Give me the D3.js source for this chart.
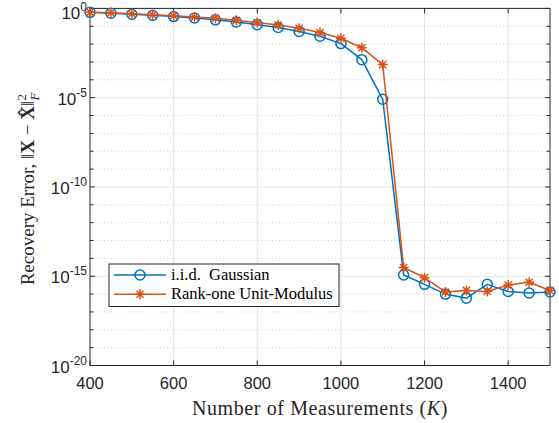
<!DOCTYPE html>
<html>
<head>
<meta charset="utf-8">
<script src="https://cdn.jsdelivr.net/npm/d3@7"></script>
<style>
  html, body { margin: 0; padding: 0; background: #fff; }
  svg { display: block; }
</style>
</head>
<body>
<svg id="chart" width="559" height="423"></svg>
<script>
// Number of measurements K
const measurements = [400, 450, 500, 550, 600, 650, 700, 750, 800, 850, 900, 950,
  1000, 1050, 1100, 1150, 1200, 1250, 1300, 1350, 1400, 1450, 1500];

// Recovery error, i.i.d. Gaussian measurements
const gaussianError = [0.603, 0.537, 0.468, 0.407, 0.347, 0.288, 0.229, 0.174, 0.123,
  0.0851, 0.0513, 0.0275, 0.0107, 1.35e-3, 8.1e-6, 1.17e-15, 3.5e-16, 1.0e-16,
  5.9e-17, 3.5e-16, 1.4e-16, 1.15e-16, 1.3e-16];

// Recovery error, rank-one unit-modulus measurements
const unitModulusError = [0.603, 0.575, 0.501, 0.447, 0.389, 0.331, 0.282, 0.214, 0.162,
  0.117, 0.0776, 0.0447, 0.0214, 6.3e-3, 7.1e-4, 3.1e-15, 8.3e-16, 1.3e-16,
  1.6e-16, 1.4e-16, 3.2e-16, 4.6e-16, 1.6e-16];

const seriesNames = ["i.i.d.  Gaussian", "Rank-one Unit-Modulus"];
const xTicks = [400, 600, 800, 1000, 1200, 1400];
const yLabelExponents = [0, -5, -10, -15, -20];

(function () {
const svg = d3.select("#chart");
const plotLeft = 90, plotRight = 550, plotTop = 8.4, plotBottom = 365.5;
const axisColor = "#262626";

const x = d3.scaleLinear().domain([400, 1500]).range([plotLeft, plotRight]);
const y = d3.scaleLog().domain([1e-20, 1]).range([plotBottom, plotTop]);

const decades = d3.range(-20, 1).map(e => Math.pow(10, e));
const majorDecades = yLabelExponents.map(e => Math.pow(10, e));
const isMajor = v => Math.round(Math.log10(v)) % 5 === 0;

// Grid
const grid = svg.append("g");
grid.selectAll(".ymin").data(decades.filter(d => !isMajor(d))).join("line")
  .attr("x1", plotLeft).attr("x2", plotRight)
  .attr("y1", d => y(d)).attr("y2", d => y(d))
  .attr("stroke", "#c4c4c4").attr("stroke-width", 0.8)
  .attr("stroke-dasharray", "1,2.5");
grid.selectAll(".ymaj").data(majorDecades.filter(d => d > 1e-20 && d < 1)).join("line")
  .attr("x1", plotLeft).attr("x2", plotRight)
  .attr("y1", d => y(d)).attr("y2", d => y(d))
  .attr("stroke", "#e3e3e3").attr("stroke-width", 1);
grid.selectAll(".xmaj").data(xTicks.filter(d => d > 400)).join("line")
  .attr("x1", d => x(d)).attr("x2", d => x(d))
  .attr("y1", plotTop).attr("y2", plotBottom)
  .attr("stroke", "#e3e3e3").attr("stroke-width", 1);

// Box
svg.append("rect")
  .attr("x", plotLeft).attr("y", plotTop)
  .attr("width", plotRight - plotLeft).attr("height", plotBottom - plotTop)
  .attr("fill", "none").attr("stroke", axisColor).attr("stroke-width", 1);

// Ticks (inward, on all four sides)
const ticks = svg.append("g").attr("stroke", axisColor).attr("stroke-width", 1);
decades.forEach(d => {
  const len = isMajor(d) ? 5 : 3.5;
  const yy = y(d);
  ticks.append("line").attr("x1", plotLeft).attr("x2", plotLeft + len).attr("y1", yy).attr("y2", yy);
  ticks.append("line").attr("x1", plotRight).attr("x2", plotRight - len).attr("y1", yy).attr("y2", yy);
});
xTicks.forEach(d => {
  const xx = x(d);
  ticks.append("line").attr("x1", xx).attr("x2", xx).attr("y1", plotBottom).attr("y2", plotBottom - 5);
  ticks.append("line").attr("x1", xx).attr("x2", xx).attr("y1", plotTop).attr("y2", plotTop + 5);
});

// X tick labels
svg.append("g").selectAll("text").data(xTicks).join("text")
  .attr("x", d => x(d)).attr("y", 388.5)
  .attr("text-anchor", "middle")
  .attr("font-family", "Liberation Sans, Arial, sans-serif")
  .attr("font-size", 16.5).attr("fill", axisColor)
  .text(d => d);

// Y tick labels: 10 with superscript exponent (top one kept inside the figure)
const yl = svg.append("g")
  .attr("font-family", "Liberation Sans, Arial, sans-serif")
  .attr("fill", axisColor);
yLabelExponents.forEach(e => {
  const base = Math.max(y(Math.pow(10, e)) + 7, 19);
  const t = yl.append("text")
    .attr("x", 87).attr("y", base)
    .attr("text-anchor", "end");
  t.append("tspan").attr("font-size", 17).text("10");
  t.append("tspan").attr("font-size", 12).attr("dy", -8).text(e === 0 ? "0" : "-" + Math.abs(e));
});

// Series
const series = [
  { name: seriesNames[0], values: gaussianError, color: "#0072BD", marker: "circle" },
  { name: seriesNames[1], values: unitModulusError, color: "#D95319", marker: "star" }
];

function drawMarker(g, kind, cx, cy, color) {
  if (kind === "circle") {
    g.append("circle").attr("cx", cx).attr("cy", cy).attr("r", 5)
      .attr("fill", "none").attr("stroke", color).attr("stroke-width", 1.5);
  } else {
    const r = 5;
    const p = d3.path();
    [0, 45, 90, 135].forEach(a => {
      const rad = a * Math.PI / 180;
      p.moveTo(cx - r * Math.cos(rad), cy - r * Math.sin(rad));
      p.lineTo(cx + r * Math.cos(rad), cy + r * Math.sin(rad));
    });
    g.append("path").attr("d", p.toString())
      .attr("fill", "none").attr("stroke", color).attr("stroke-width", 1.5);
  }
}

const line = d3.line().x(d => x(d[0])).y(d => y(d[1]));
series.forEach(s => {
  const pts = measurements.map((k, i) => [k, s.values[i]]);
  const g = svg.append("g");
  g.append("path").datum(pts).attr("d", line)
    .attr("fill", "none").attr("stroke", s.color).attr("stroke-width", 1.5)
    .attr("stroke-linejoin", "round");
  pts.forEach(p => drawMarker(g, s.marker, x(p[0]), y(p[1]), s.color));
});

// Legend
const lg = svg.append("g");
lg.append("rect").attr("x", 109).attr("y", 264).attr("width", 230).attr("height", 42.5)
  .attr("fill", "#fff").attr("stroke", axisColor).attr("stroke-width", 1);
series.forEach((s, i) => {
  const ly = 275 + i * 19.3;
  lg.append("line").attr("x1", 114).attr("x2", 166).attr("y1", ly).attr("y2", ly)
    .attr("stroke", s.color).attr("stroke-width", 1.5);
  drawMarker(lg, s.marker, 140, ly, s.color);
  lg.append("text").attr("x", 171).attr("y", ly + 5)
    .attr("font-family", "Liberation Serif, Times New Roman, serif")
    .attr("font-size", 16.5).attr("fill", "#000")
    .attr("xml:space", "preserve")
    .text(s.name);
});

// Axis titles
const xt = svg.append("text")
  .attr("x", (plotLeft + plotRight) / 2).attr("y", 415)
  .attr("text-anchor", "middle")
  .attr("font-family", "Liberation Serif, Times New Roman, serif")
  .attr("font-size", 20).attr("letter-spacing", 0.6).attr("fill", "#262626");
xt.append("tspan").text("Number of Measurements (");
xt.append("tspan").attr("font-style", "italic").text("K");
xt.append("tspan").text(")");

const yt = svg.append("text")
  .attr("transform", `translate(34,189) rotate(-90)`)
  .attr("text-anchor", "middle")
  .attr("font-family", "Liberation Serif, Times New Roman, serif")
  .attr("font-size", 19).attr("fill", "#262626");
yt.append("tspan").text("Recovery Error, \u2016");
yt.append("tspan").attr("font-weight", "bold").text("X");
yt.append("tspan").text(" \u2212 ");
yt.append("tspan").attr("font-weight", "bold").text("X\u0302");
yt.append("tspan").text("\u2016");
yt.append("tspan").attr("font-size", 13).attr("dy", -8).text("2");
yt.append("tspan").attr("font-size", 13).attr("font-style", "italic")
  .attr("dx", -6.5).attr("dy", 13).text("F");
})();
</script>
</body>
</html>
